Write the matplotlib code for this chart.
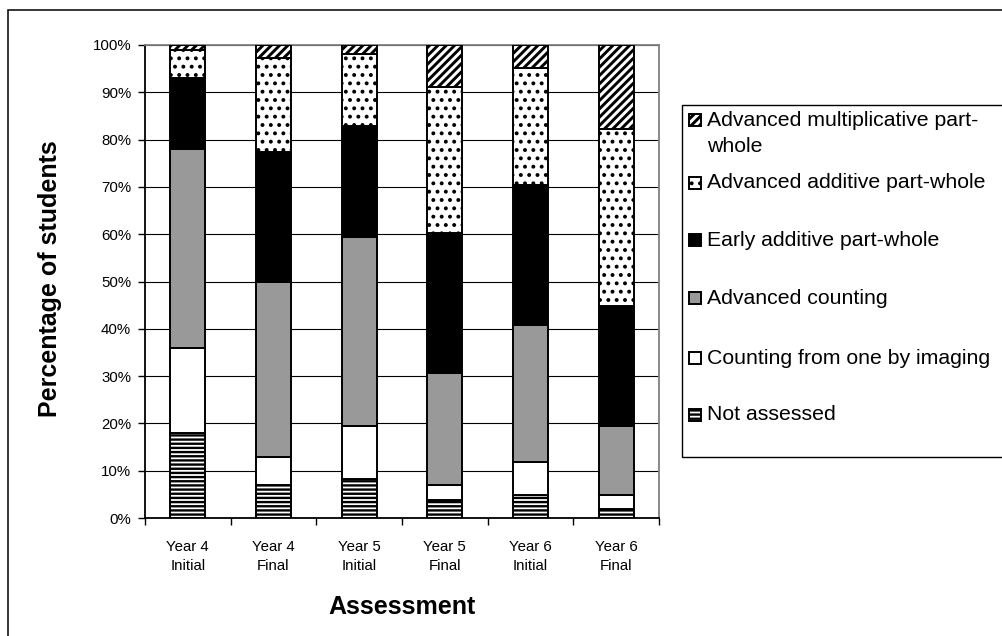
import matplotlib
matplotlib.use("Agg")
import matplotlib.pyplot as plt
from matplotlib.patches import Rectangle
from matplotlib.ticker import FixedLocator, FuncFormatter
import numpy as np

plt.rcParams["font.family"] = ["Liberation Sans", "DejaVu Sans"]
plt.rcParams["hatch.color"] = "black"

# Share of students (%) at each stage, per assessment
categories = ["Year 4\nInitial", "Year 4\nFinal", "Year 5\nInitial",
              "Year 5\nFinal", "Year 6\nInitial", "Year 6\nFinal"]
not_assessed = [18.0, 7.0, 8.3, 3.8, 4.9, 1.9]
counting_imaging = [18.0, 6.0, 11.2, 3.2, 7.0, 2.9]
advanced_counting = [42.0, 37.0, 40.0, 23.6, 28.8, 14.7]
early_additive = [15.0, 27.3, 23.3, 29.7, 29.6, 25.3]
advanced_additive = [6.0, 20.0, 15.2, 30.8, 24.8, 37.4]
advanced_multiplicative = [1.0, 2.7, 2.0, 8.9, 4.9, 17.8]

stage_names = ["Not assessed", "Counting from one by imaging", "Advanced counting",
               "Early additive part-whole", "Advanced additive part-whole",
               "Advanced multiplicative part-\nwhole"]
stage_values = [not_assessed, counting_imaging, advanced_counting,
                early_additive, advanced_additive, advanced_multiplicative]

# fill colour, hatch pattern and hatch line width (pt) for each stage
styles = [
    ("white", "----", 1.7),
    ("white", "", 1.0),
    ("#999999", "", 1.0),
    ("black", "", 1.0),
    ("white", "..", 1.6),
    ("white", "////", 2.1),
]

W, H = 1002, 636
fig = plt.figure(figsize=(W / 100, H / 100), dpi=100)

# outer chart border
fig.add_artist(Rectangle((8 / W, -0.05), 1.1, 1 - 10 / H + 0.05,
                         transform=fig.transFigure, fill=False,
                         edgecolor="black", linewidth=1.1))

ax = fig.add_axes([145 / W, 1 - 518 / H, 514 / W, 473 / H])

x = np.arange(len(categories))
bottom = np.zeros(len(categories))
bar_width = 0.41
for values, (face, hatch, hlw) in zip(stage_values, styles):
    bars = ax.bar(x, values, bar_width, bottom=bottom, color=face,
                  edgecolor="black", linewidth=1.4, hatch=hatch, zorder=3)
    for p in bars:
        p.set_hatch_linewidth(hlw)
    bottom += np.array(values)

ax.set_xlim(-0.5, len(categories) - 0.5)
ax.set_ylim(0, 100)

ax.yaxis.set_major_locator(FixedLocator(np.arange(0, 101, 10)))
ax.yaxis.set_major_formatter(FuncFormatter(lambda v, _: f"{v:.0f}%"))
ax.grid(axis="y", color="black", linewidth=0.8, zorder=0)
ax.set_axisbelow(True)

ax.set_xticks(x)
ax.set_xticklabels(categories, fontsize=10.8, linespacing=1.5)
ax.xaxis.set_minor_locator(FixedLocator(np.arange(-0.5, len(categories), 1.0)))
ax.tick_params(axis="x", which="major", length=0, pad=15.5)
ax.tick_params(axis="x", which="minor", length=5, width=1.0, direction="out")
ax.tick_params(axis="y", length=5, width=1.0, direction="out", pad=5,
               labelsize=10.8)

for side in ("left", "bottom"):
    ax.spines[side].set_color("black")
    ax.spines[side].set_linewidth(1.3)
for side in ("top", "right"):
    ax.spines[side].set_color("#808080")
    ax.spines[side].set_linewidth(1.3)

fig.text(50 / W, 1 - 279 / H, "Percentage of students", rotation=90,
         ha="center", va="center", fontsize=18, fontweight="bold")
fig.text(402 / W, 1 - 607 / H, "Assessment", ha="center", va="center",
         fontsize=18, fontweight="bold")

# legend box, drawn entry by entry (top entry is the highest stage)
fig.add_artist(Rectangle((682 / W, 1 - 457 / H), 0.5, (457 - 105) / H,
                         transform=fig.transFigure, facecolor="white",
                         edgecolor="black", linewidth=1.0))
row_centers = [415, 358, 298, 240, 183, 120]
icon = 12
for name, (face, hatch, hlw), yc in zip(stage_names, styles, row_centers):
    key = Rectangle((689 / W, 1 - (yc + icon / 2) / H), icon / W, icon / H,
                    transform=fig.transFigure, facecolor=face,
                    edgecolor="black", linewidth=1.4, hatch=hatch)
    key.set_hatch_linewidth(hlw)
    fig.add_artist(key)
    lines = name.split("\n")
    for k, line in enumerate(lines):
        fig.text(707 / W, 1 - (yc + 27 * k) / H, line, ha="left", va="center",
                 fontsize=15.3)

fig.savefig("out.png", dpi=100)
